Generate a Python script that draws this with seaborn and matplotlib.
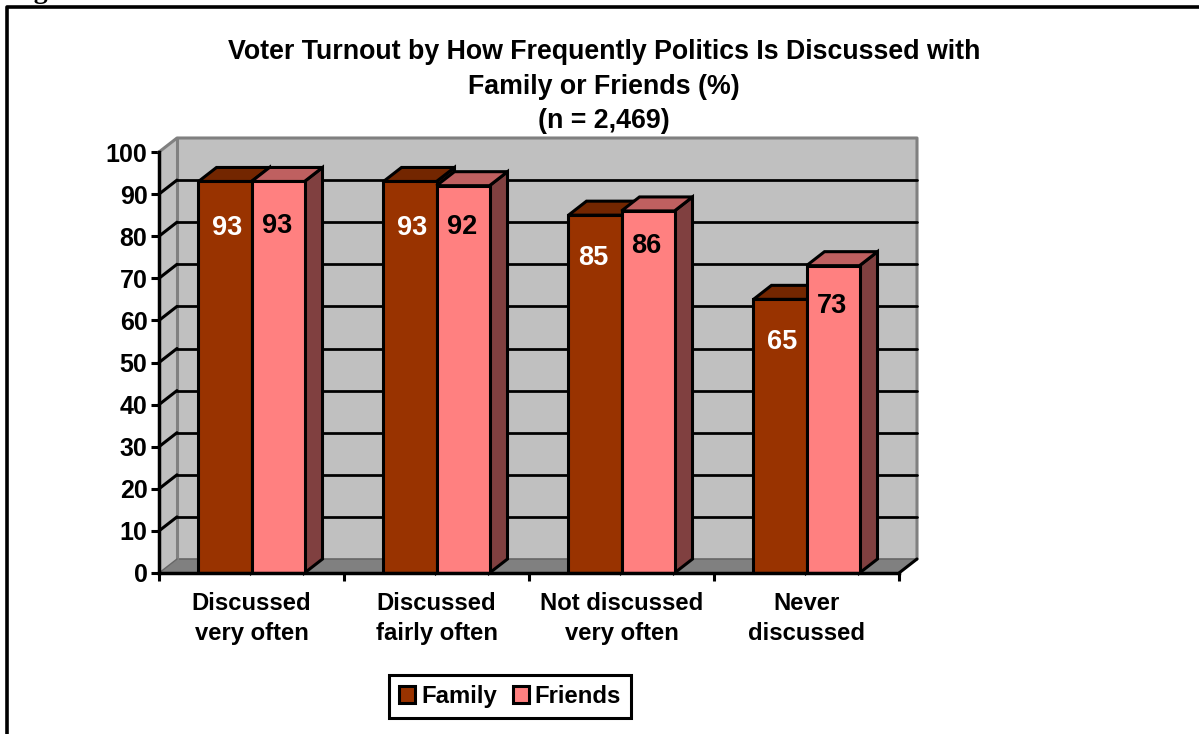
import pandas as pd
import matplotlib.pyplot as plt
from matplotlib.lines import Line2D
from matplotlib.colors import to_rgb
import seaborn as sns

sns.set_style("white")
plt.rcParams['font.family'] = ['Liberation Sans', 'DejaVu Sans']
plt.rcParams['font.weight'] = 'bold'
plt.rcParams['text.color'] = 'black'
plt.rcParams['xtick.color'] = 'black'
plt.rcParams['ytick.color'] = 'black'

categories = ["Discussed\nvery often", "Discussed\nfairly often", "Not discussed\nvery often", "Never\ndiscussed"]
family = [93, 93, 85, 65]
friends = [93, 92, 86, 73]
y_ticks = list(range(0, 101, 10))

colors = {"Family": "#993300", "Friends": "#FF8080"}
label_colors = {"Family": "white", "Friends": "black"}
# pixels below the bar top, the original labels sit a bit unevenly
label_drop = {"Family": [47, 47, 43, 43], "Friends": [45, 41, 35, 40]}
label_shift = {"Family": [2, 2, -2, 2], "Friends": [-1, -1, -2, -1]}

W, H = 1199, 734
fs = 17.2
lw = 2.2

df = pd.DataFrame({
    "cat": categories * 2,
    "group": ["Family"] * 4 + ["Friends"] * 4,
    "value": family + friends,
})

fig = plt.figure(figsize=(W / 100, H / 100), dpi=100)
ax = fig.add_axes([159 / W, 1 - 573 / H, 740 / W, 421 / H])
sns.barplot(data=df, x="cat", y="value", hue="group", hue_order=["Family", "Friends"],
            palette=colors, width=0.573, gap=0, edgecolor="black", linewidth=lw,
            saturation=1, ax=ax, zorder=3)
ax.set_xlim(-0.5, 3.5)
ax.set_ylim(0, 100)
ax.set_xlabel("")
ax.set_ylabel("")

# depth of the fake 3D box in data units
dx = 18 / 185
dy = 14 / 4.21
x0, x1 = -0.5, 3.5

ax.fill([x0, x0 + dx, x0 + dx, x0], [0, dy, 100 + dy, 100], color="#C0C0C0", lw=0, clip_on=False, zorder=0.5)
ax.fill([x0 + dx, x1 + dx, x1 + dx, x0 + dx], [dy, dy, 100 + dy, 100 + dy], color="#C0C0C0", lw=0, clip_on=False, zorder=0.5)
ax.fill([x0, x1, x1 + dx, x0 + dx], [0, 0, dy, dy], color="#808080", lw=0, clip_on=False, zorder=0.6)
ax.plot([x0 + dx, x1 + dx], [dy, dy], color="#666666", lw=1.2, clip_on=False, zorder=0.7)
ax.plot([x0, x0 + dx, x1 + dx, x1 + dx], [100, 100 + dy, 100 + dy, dy], color="#808080", lw=lw, clip_on=False, zorder=0.8)
ax.plot([x0 + dx, x0 + dx], [dy, 100 + dy], color="#808080", lw=lw, clip_on=False, zorder=0.8)
ax.plot([x0, x0 + dx], [0, dy], color="#666666", lw=1, clip_on=False, zorder=0.8)
ax.plot([x1, x1 + dx], [0, dy], color="black", lw=lw, clip_on=False, zorder=0.9)

# grid on the back wall and side wall
for t in y_ticks[1:-1]:
    ax.plot([x0, x0 + dx], [t, t + dy], color="black", lw=lw, clip_on=False, zorder=1)
    ax.plot([x0 + dx, x1 + dx], [t + dy, t + dy], color="black", lw=lw * 0.9, clip_on=False, zorder=1)

# side and top faces, taken from the bars seaborn drew
z = 3
for container, name in zip(ax.containers, ["Family", "Friends"]):
    r, g, b = to_rgb(colors[name])
    for p, v, drop, shift in zip(container.patches, df[df.group == name].value, label_drop[name], label_shift[name]):
        l, w, h = p.get_x(), p.get_width(), p.get_height()
        ax.fill([l + w, l + w + dx, l + w + dx, l + w], [0, dy, h + dy, h],
                facecolor=(r * 0.5, g * 0.5, b * 0.5), edgecolor="black", lw=lw, clip_on=False, zorder=z)
        ax.fill([l, l + w, l + w + dx, l + dx], [h, h, h + dy, h + dy],
                facecolor=(r * 0.75, g * 0.75, b * 0.75), edgecolor="black", lw=lw, clip_on=False, zorder=z)
        p.set_zorder(z + 0.1)
        ax.annotate(str(v), (l + w / 2, h), xytext=(shift * 0.72, -drop * 0.72), textcoords="offset points",
                    ha="center", va="center", fontsize=19.5, color=label_colors[name], zorder=9)
    z += 1

sns.despine(ax=ax, top=True, right=True)
for s in ["left", "bottom"]:
    ax.spines[s].set_linewidth(lw + 0.3)
    ax.spines[s].set_color("black")
    ax.spines[s].set_zorder(8)

ax.set_yticks(y_ticks)
ax.tick_params(axis="y", length=5.8, width=lw, color="black", labelsize=18, pad=2.5, left=True)
ax.set_xticks([x0, 0.5, 1.5, 2.5, x1])
ax.set_xticklabels([])
ax.set_xticks(range(4), labels=categories, minor=True)
ax.tick_params(axis="x", which="major", length=5.8, width=lw, color="black", bottom=True)
ax.tick_params(axis="x", which="minor", length=0, labelsize=fs, pad=14, bottom=False)
for t in ax.get_xticklabels(minor=True):
    t.set_linespacing(1.35)

sns.move_legend(ax, "lower left", bbox_to_anchor=(389 / W, 1 - 718 / H), bbox_transform=fig.transFigure,
                ncol=2, title=None, frameon=True, fontsize=fs, fancybox=False, framealpha=1,
                edgecolor="black", borderaxespad=0, handlelength=0.68, handleheight=0.68,
                handletextpad=0.25, columnspacing=0.65, borderpad=0.42)
leg = ax.get_legend()
leg.get_frame().set_linewidth(lw)
leg.set_zorder(10)

fig.text(604 / W, 1 - 86.5 / H, "Voter Turnout by How Frequently Politics Is Discussed with\nFamily or Friends (%)\n(n = 2,469)",
         ha="center", va="center", fontsize=19.3, linespacing=1.42)
# caption above the frame, only its descender stays on the page as in the source
fig.text(10 / W, 1 + 1.5 / H, "Figure", family="Liberation Serif", fontsize=20, va="baseline")

fig.add_artist(Line2D([6.5 / W, 6.5 / W, 1], [0, 1 - 7 / H, 1 - 7 / H], color="black", lw=2.6))

fig.savefig("out.png", dpi=100)
